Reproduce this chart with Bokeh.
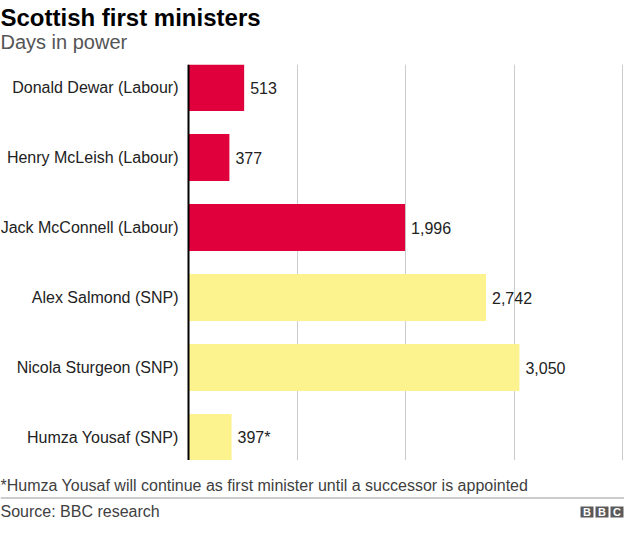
from bokeh.plotting import figure
from bokeh.layouts import column
from bokeh.models import Range1d, FixedTicker, ColumnDataSource, Grid, Span
from bokeh.embed import file_html
from bokeh.resources import INLINE
from bokeh.core.properties import value

# ---- data ----
names = ["Donald Dewar (Labour)", "Henry McLeish (Labour)", "Jack McConnell (Labour)",
         "Alex Salmond (SNP)", "Nicola Sturgeon (SNP)", "Humza Yousaf (SNP)"]
parties = ["Labour", "Labour", "Labour", "SNP", "SNP", "SNP"]
days = [513, 377, 1996, 2742, 3050, 397]
notes = ["", "", "", "", "", "*"]
party_colors = {"Labour": "#E0003C", "SNP": "#FDF38E"}
grid_ticks = [1000, 2000, 3000, 4000]

title_text = "Scottish first ministers"
subtitle_text = "Days in power"
footnote_text = "*Humza Yousaf will continue as first minister until a successor is appointed"
source_text = "Source: BBC research"
logo_letters = ["B", "B", "C"]

FONT = "Liberation Sans"

# ---- layout sizes (pixels) ----
W = 624
HH = 64             # header (title + subtitle)
HM = 396            # chart area
HF = 520 - HH - HM  # footer
ZERO_PX = 188       # pixel column of the value axis
MAX_PX = 622        # pixel column where the last grid value sits
ROW_PX = 70         # pixel height of one category row
units_per_px = grid_ticks[-1] / (MAX_PX - ZERO_PX)
BASE_SHIFT = 6      # alphabetic baseline correction


def blank_fig(h):
    f = figure(width=W, height=h, output_backend="svg", toolbar_location=None,
               x_range=Range1d(0, W), y_range=Range1d(h, 0),
               x_axis_location=None, y_axis_location=None, min_border=0)
    f.outline_line_color = None
    f.xgrid.visible = False
    f.ygrid.visible = False
    f.background_fill_color = "white"
    f.border_fill_color = "white"
    return f


# ---- header ----
head = blank_fig(HH)
head.text(x=[0], y=[23 - BASE_SHIFT], text=[title_text], text_font=value(FONT),
          text_font_size="24px", text_font_style="bold", text_color="#000000",
          text_baseline="alphabetic")
head.text(x=[0], y=[47 - BASE_SHIFT], text=[subtitle_text], text_font=value(FONT),
          text_font_size="20px", text_color="#555555", text_baseline="alphabetic")

# ---- main chart ----
idx = list(range(len(names)))
n = len(idx)
src = ColumnDataSource(dict(
    idx=idx,
    zero=[0] * n,
    names=names,
    days=days,
    color=[party_colors[p] for p in parties],
    label=[f"{d:,}{s}" for d, s in zip(days, notes)],
))

half = HM / ROW_PX / 2.0
mid = (n - 1) / 2.0
p = figure(width=W, height=HM, output_backend="svg", toolbar_location=None,
           x_range=Range1d(-ZERO_PX * units_per_px, (W - ZERO_PX) * units_per_px),
           y_range=Range1d(mid + half, mid - half),
           x_axis_location=None, y_axis_location=None, min_border=0)
p.outline_line_color = None
p.xgrid.visible = False
p.ygrid.visible = False
p.background_fill_color = "white"
p.border_fill_color = "white"

p.add_layout(Grid(dimension=0, ticker=FixedTicker(ticks=grid_ticks),
                  grid_line_color="#cccccc", grid_line_width=1))

p.hbar(y="idx", left=0, right="days", height=0.67, fill_color="color", line_color=None, source=src)
p.text(x="days", y="idx", text="label", x_offset=6, text_baseline="middle", text_align="left",
       text_font=value(FONT), text_font_size="16px", text_color="#222222", source=src)
# category labels, right-aligned against the value axis
p.text(x="zero", y="idx", text="names", x_offset=-10, text_baseline="middle", text_align="right",
       text_font=value(FONT), text_font_size="16px", text_color="#222222", source=src)
# value axis line
p.add_layout(Span(location=0, dimension="height", line_color="black", line_width=2))

# ---- footer ----
foot = blank_fig(HF)
foot.text(x=[0], y=[31 - BASE_SHIFT], text=[footnote_text], text_font=value(FONT),
          text_font_size="16px", text_color="#404040", text_baseline="alphabetic")
foot.segment(x0=[0], y0=[37.5], x1=[W], y1=[37.5], line_color="#999999", line_width=1)
foot.text(x=[0], y=[57 - BASE_SHIFT], text=[source_text], text_font=value(FONT),
          text_font_size="16px", text_color="#404040", text_baseline="alphabetic")
lx = [580 + 15 * i for i in range(len(logo_letters))]
foot.quad(left=lx, right=[x + 13 for x in lx], top=[46] * 3, bottom=[57] * 3,
          fill_color="#5a5a5a", line_color=None)
foot.text(x=[x + 6.5 for x in lx], y=[51.5] * 3, text=logo_letters, text_font=value(FONT),
          text_font_size="11px", text_font_style="bold", text_color="#ffffff",
          text_align="center", text_baseline="middle")

layout = column(head, p, foot, spacing=0)
open("out.html", "w").write(file_html(layout, INLINE))
